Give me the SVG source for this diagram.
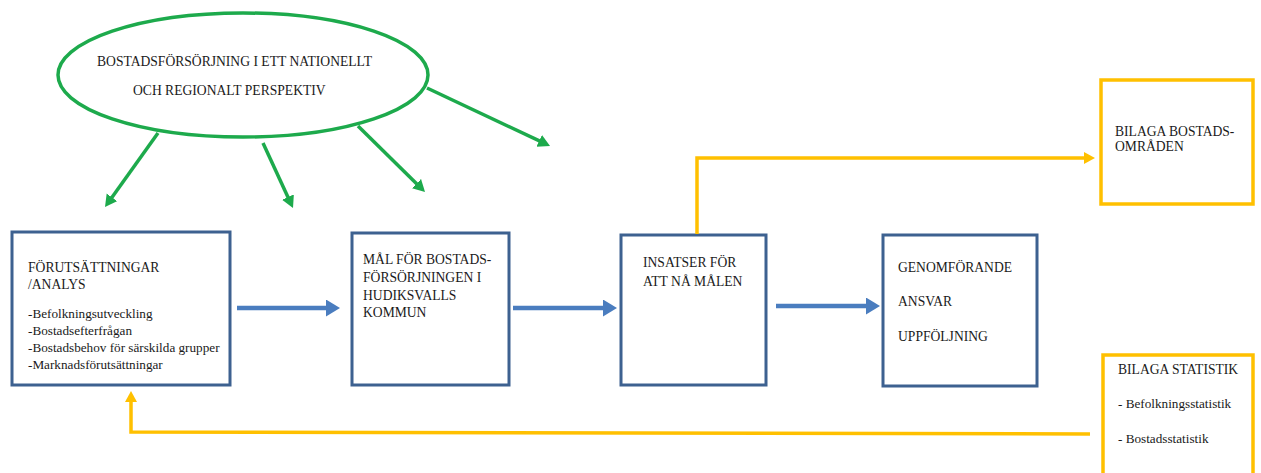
<svg xmlns="http://www.w3.org/2000/svg" width="1261" height="473" viewBox="0 0 1261 473">
<style>
text{font-family:"Liberation Serif","Times New Roman",serif;font-size:13.6px;fill:#1a1a1a}
.s{font-size:13.2px}
.box{fill:#fff;stroke:#3D6190;stroke-width:3}
.ybox{fill:#fff;stroke:#FFC000;stroke-width:3.5}
.g{stroke:#1DAA4C;stroke-width:3.5;fill:none}
.b{stroke:#4A7DBF;stroke-width:4.5;fill:none}
.y{stroke:#FFC000;stroke-width:3.5;fill:none}
</style>
<defs>
<marker id="ga" markerUnits="userSpaceOnUse" markerWidth="14" markerHeight="14" refX="2" refY="6.5" orient="auto"><path d="M0,0 L12,6.5 L0,13 z" fill="#1DAA4C"/></marker>
<marker id="ba" markerUnits="userSpaceOnUse" markerWidth="16" markerHeight="18" refX="2" refY="8.5" orient="auto"><path d="M0,0 L14,8.5 L0,17 z" fill="#4A7DBF"/></marker>
<marker id="ya" markerUnits="userSpaceOnUse" markerWidth="14" markerHeight="14" refX="2" refY="6" orient="auto"><path d="M0,0 L11,6 L0,12 z" fill="#FFC000"/></marker>
</defs>
<rect width="1261" height="473" fill="#fff"/>
<g id="ellipse">
<ellipse cx="243" cy="75" rx="185" ry="62" fill="#fff" stroke="#1DAA4C" stroke-width="3.5"/>
<text x="97" y="66">BOSTADSFÖRSÖRJNING I ETT NATIONELLT</text>
<text x="133" y="95">OCH REGIONALT PERSPEKTIV</text>
</g>
<g id="box-forutsattningar">
<rect class="box" x="12" y="232" width="218" height="153"/>
<text x="28" y="272">FÖRUTSÄTTNINGAR</text>
<text x="28" y="289">/ANALYS</text>
<text class="s" x="28" y="318">-Befolkningsutveckling</text>
<text class="s" x="28" y="335">-Bostadsefterfrågan</text>
<text class="s" x="28" y="352">-Bostadsbehov för särskilda grupper</text>
<text class="s" x="28" y="369">-Marknadsförutsättningar</text>
</g>
<g id="box-mal">
<rect class="box" x="352" y="233" width="157" height="152"/>
<text x="363" y="264">MÅL FÖR BOSTADS-</text>
<text x="363" y="282">FÖRSÖRJNINGEN I</text>
<text x="363" y="300">HUDIKSVALLS</text>
<text x="363" y="317">KOMMUN</text>
</g>
<g id="box-insatser">
<rect class="box" x="621" y="235" width="145" height="150"/>
<text x="643" y="267">INSATSER FÖR</text>
<text x="643" y="286">ATT NÅ MÅLEN</text>
</g>
<g id="box-genomforande">
<rect class="box" x="883" y="235" width="154" height="151"/>
<text x="898" y="272">GENOMFÖRANDE</text>
<text x="898" y="306">ANSVAR</text>
<text x="898" y="341">UPPFÖLJNING</text>
</g>
<g id="box-bilaga-bostadsomraden">
<rect class="ybox" x="1101" y="80" width="152" height="124"/>
<text x="1115" y="136">BILAGA BOSTADS-</text>
<text x="1115" y="151">OMRÅDEN</text>
</g>
<g id="box-bilaga-statistik">
<rect class="ybox" x="1103" y="355" width="150" height="130"/>
<text x="1118" y="374">BILAGA STATISTIK</text>
<text class="s" x="1118" y="408">- Befolkningsstatistik</text>
<text class="s" x="1118" y="443">- Bostadsstatistik</text>
</g>
<g id="connectors">
<line class="g" x1="158" y1="133" x2="110.8" y2="198.9" marker-end="url(#ga)"/>
<line class="g" x1="263" y1="143" x2="288.8" y2="198.9" marker-end="url(#ga)"/>
<line class="g" x1="358" y1="126" x2="417.9" y2="185" marker-end="url(#ga)"/>
<line class="g" x1="427" y1="88" x2="541" y2="141.7" marker-end="url(#ga)"/>
<line class="b" x1="237" y1="308" x2="328" y2="308" marker-end="url(#ba)"/>
<line class="b" x1="513" y1="308" x2="605" y2="308" marker-end="url(#ba)"/>
<line class="b" x1="776" y1="306" x2="868" y2="306" marker-end="url(#ba)"/>
<polyline class="y" points="697,234 697,158 1086,158" marker-end="url(#ya)"/>
<polyline class="y" points="1090,434 131,432 131,400" marker-end="url(#ya)"/>
</g>
</svg>
